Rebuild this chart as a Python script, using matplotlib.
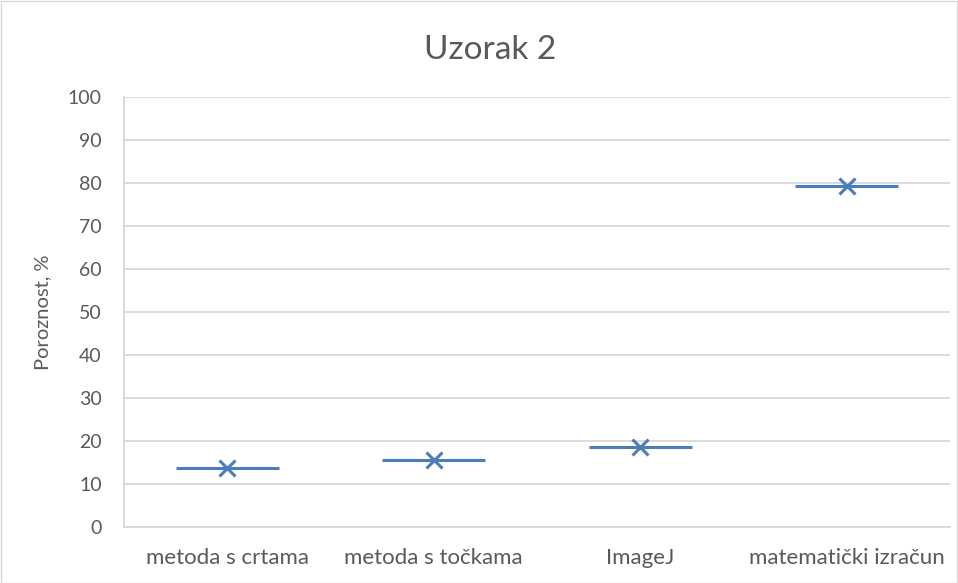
import matplotlib.pyplot as plt
from matplotlib.patches import Rectangle

categories = ["metoda s crtama", "metoda s točkama", "ImageJ", "matematički izračun"]
porosity = [13.8, 15.5, 18.6, 79.4]
yticks = list(range(0, 101, 10))

blue = "#4A7EBB"
grey_txt = "#595959"
grid_c = "#D9D9D9"

plt.rcParams["font.family"] = ["Lato", "DejaVu Sans"]

fig = plt.figure(figsize=(9.58, 5.83), dpi=100)
ax = fig.add_axes([124 / 958, 56 / 583, (950 - 124) / 958, (527 - 97) / 583])

x = range(len(categories))
half = 0.25
for i, v in zip(x, porosity):
    ax.hlines(v, i - half, i + half, color=blue, lw=2.2, zorder=3)
ax.plot(list(x), porosity, ls="none", marker="x", ms=12, mew=2.2, color=blue, zorder=4)

ax.set_xlim(-0.5, len(categories) - 0.5)
ax.set_ylim(0, 100)
ax.set_yticks(yticks)
ax.set_xticks(list(x))
ax.set_xticklabels(categories)
ax.tick_params(axis="x", length=0, pad=15, labelsize=16, colors=grey_txt)
ax.tick_params(axis="y", length=0, pad=16, labelsize=14, colors=grey_txt)
ax.grid(axis="y", color=grid_c, lw=1.3)
ax.set_axisbelow(True)
for s in ["top", "right"]:
    ax.spines[s].set_visible(False)
ax.spines["left"].set_color(grid_c)
ax.spines["bottom"].set_color(grid_c)
ax.spines["left"].set_linewidth(1.3)
ax.spines["bottom"].set_linewidth(1.3)

ax.set_ylabel("Poroznost, %", fontsize=14.5, color=grey_txt, labelpad=12)
fig.text(490 / 958, 1 - 50 / 583, "Uzorak 2", ha="center", va="center", fontsize=24, color=grey_txt)

# chart area border
fig.patches.append(Rectangle((0.5 / 958, 0.5 / 583), 1 - 1.5 / 958, 1 - 1.5 / 583,
                             transform=fig.transFigure, fill=False, ec=grid_c, lw=1))

fig.savefig("out.png", dpi=100)
